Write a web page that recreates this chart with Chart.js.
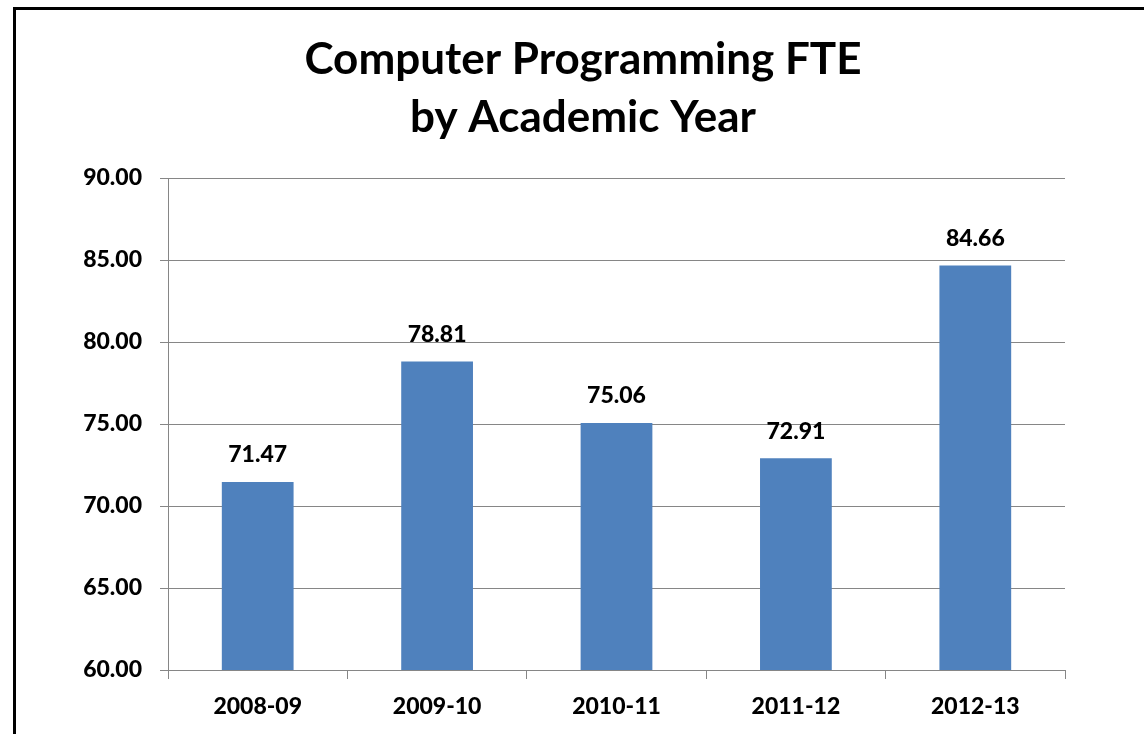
<!DOCTYPE html>
<html>
<head>
<meta charset="utf-8">
<script src="https://cdn.jsdelivr.net/npm/chart.js@4/dist/chart.umd.min.js"></script>
<style>
    html, body { margin: 0; padding: 0; background: #fff; overflow: hidden; }
    #frame {
        position: absolute; left: 13px; top: 7px;
        width: 2000px; height: 2000px;
        border-left: 3px solid #000; border-top: 3px solid #000;
    }
    #wrap { position: absolute; left: 0; top: 0; width: 1144px; height: 734px; }
</style>
</head>
<body>
<div id="frame"></div>
<div id="wrap"><canvas id="chartFte"></canvas></div>
<script>
// datos del gráfico
const years = ['2008-09', '2009-10', '2010-11', '2011-12', '2012-13'];
const fteValues = [71.47, 78.81, 75.06, 72.91, 84.66];
const titleLines = ['Computer Programming FTE', 'by Academic Year'];
const yMin = 60;
const yMax = 90;
const yStep = 5;

const FONT = 'Lato, "Open Sans", sans-serif';

// título centrado sobre el gráfico completo (no sobre el área de datos)
const titleBlock = {
    id: 'titleBlock',
    afterDraw(chart) {
        const ctx = chart.ctx;
        ctx.save();
        ctx.font = 'bold 44px ' + FONT;
        ctx.fillStyle = '#000';
        ctx.textAlign = 'center';
        ctx.textBaseline = 'middle';
        titleLines.forEach((line, i) => {
            ctx.fillText(line, 583, 60 + i * 58);
        });
        ctx.restore();
    }
};

// etiquetas encima de cada barra
const barLabels = {
    id: 'barLabels',
    afterDatasetsDraw(chart) {
        const ctx = chart.ctx;
        const meta = chart.getDatasetMeta(0);
        ctx.save();
        ctx.font = '900 23px ' + FONT;
        ctx.fillStyle = '#000';
        ctx.textAlign = 'center';
        ctx.textBaseline = 'middle';
        meta.data.forEach((bar, i) => {
            ctx.fillText(fteValues[i].toFixed(2), bar.x, bar.y - 27);
        });
        ctx.restore();
    }
};

document.addEventListener('DOMContentLoaded', () => {
    const ctx = document.getElementById('chartFte');
    new Chart(ctx, {
        type: 'bar',
        data: {
            labels: years,
            datasets: [{
                data: fteValues,
                backgroundColor: '#4F81BD',
                borderWidth: 0,
                categoryPercentage: 1,
                barPercentage: 0.4
            }]
        },
        options: {
            responsive: true,
            maintainAspectRatio: false,
            animation: false,
            layout: {
                padding: { left: 0, right: 79, top: 178, bottom: 0 }
            },
            plugins: {
                legend: { display: false },
                tooltip: { enabled: false },
                title: { display: false }
            },
            scales: {
                y: {
                    min: yMin,
                    max: yMax,
                    afterFit: (scale) => { scale.width = 168; },
                    ticks: {
                        stepSize: yStep,
                        color: '#000',
                        padding: 18,
                        font: { family: FONT, size: 23, weight: '900' },
                        callback: (v) => Number(v).toFixed(2)
                    },
                    grid: {
                        color: '#868686',
                        tickLength: 8,
                        lineWidth: 1
                    },
                    border: { color: '#868686', width: 1 }
                },
                x: {
                    afterFit: (scale) => { scale.height = 64; },
                    ticks: {
                        color: '#000',
                        padding: 14,
                        font: { family: FONT, size: 23, weight: '900' }
                    },
                    grid: {
                        offset: true,
                        drawOnChartArea: false,
                        color: '#868686',
                        tickLength: 9
                    },
                    border: { color: '#868686', width: 1 }
                }
            }
        },
        plugins: [barLabels, titleBlock]
    });
});
</script>
</body>
</html>
